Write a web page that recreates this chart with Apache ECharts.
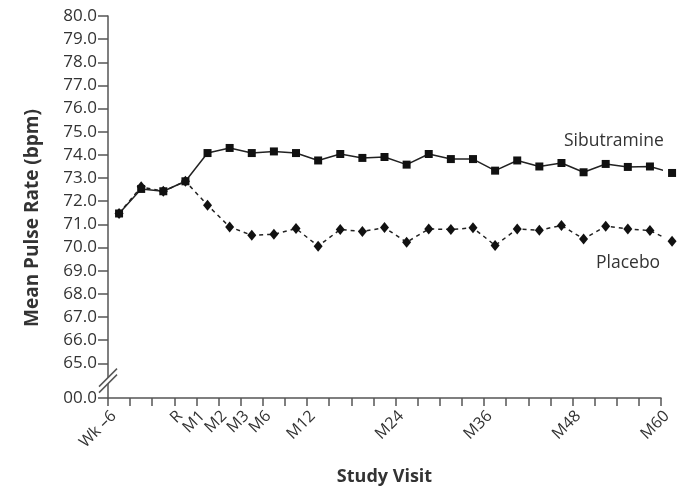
<!DOCTYPE html>
<html>
<head>
<meta charset="utf-8">
<script src="https://cdn.jsdelivr.net/npm/echarts@6/dist/echarts.min.js"></script>
<style>
  html, body { margin: 0; padding: 0; background: #fff; }
  #chart { width: 689px; height: 488px; }
</style>
</head>
<body>
<div id="chart"></div>
<script>
// Study visits along the x axis (one tick per visit; only some are labelled)
const tickLabels = ['Wk \u20136', '', '', 'R', 'M1', 'M2', 'M3', 'M6', '', 'M12', '', '', '',
  'M24', '', '', '', 'M36', '', '', '', 'M48', '', '', '', 'M60'];

// Mean pulse rate (bpm) at each visit
const sibutramine = [71.47, 72.53, 72.43, 72.86, 74.08, 74.30, 74.08, 74.15, 74.08, 73.76,
  74.04, 73.87, 73.91, 73.58, 74.04, 73.82, 73.82, 73.32, 73.76, 73.50,
  73.65, 73.25, 73.61, 73.48, 73.50, 73.22];
const placebo = [71.47, 72.62, 72.43, 72.86, 71.83, 70.89, 70.53, 70.57, 70.82, 70.06,
  70.78, 70.69, 70.86, 70.23, 70.80, 70.78, 70.85, 70.09, 70.80, 70.75,
  70.95, 70.37, 70.92, 70.80, 70.73, 70.27];

// y-axis: 65–80 in steps of 1, plus the broken-axis origin shown as "00.0"
const yOrigin = 63.5;
const yTicks = [yOrigin, 65, 66, 67, 68, 69, 70, 71, 72, 73, 74, 75, 76, 77, 78, 79, 80];

const FONT = '"Open Sans", "DejaVu Sans", sans-serif';
const TEXT = '#333';
const AXIS = '#555';

// each visit's mean is plotted in the middle of its interval
const toPoints = arr => arr.map((v, i) => [i + 0.5, v]);

const chart = echarts.init(document.getElementById('chart'), null, { renderer: 'canvas' });

chart.setOption({
  animation: false,
  backgroundColor: '#fff',
  grid: { left: 108, right: 28, top: 16, bottom: 90, containLabel: false, outerBoundsMode: 'none' },
  xAxis: {
    type: 'value',
    min: 0,
    max: tickLabels.length - 1,
    interval: 1,
    name: 'Study Visit',
    nameLocation: 'middle',
    nameGap: 70,
    nameTextStyle: { fontFamily: FONT, fontSize: 18, fontWeight: 'bold', color: TEXT },
    splitLine: { show: false },
    axisLine: { show: true, lineStyle: { color: AXIS, width: 1.5 } },
    axisTick: { show: true, length: 8, lineStyle: { color: AXIS, width: 1.5 } },
    axisLabel: {
      rotate: 45,
      margin: 10,
      verticalAlign: 'top',
      fontFamily: FONT,
      fontSize: 16,
      color: TEXT,
      showMinLabel: true,
      showMaxLabel: true,
      formatter: v => tickLabels[Math.round(v)] || ''
    }
  },
  yAxis: {
    type: 'value',
    min: yOrigin,
    max: 80,
    name: 'Mean Pulse Rate (bpm)',
    nameLocation: 'middle',
    nameGap: 66,
    nameTextStyle: { fontFamily: FONT, fontSize: 19, fontWeight: 'bold', color: TEXT, padding: [0, 22, 0, 0] },
    splitLine: { show: false },
    axisLine: { show: true, lineStyle: { color: AXIS, width: 1.5 } },
    axisTick: { show: true, length: 10, customValues: yTicks, lineStyle: { color: AXIS, width: 1.5 } },
    axisLabel: {
      margin: 11,
      fontFamily: FONT,
      fontSize: 17,
      color: TEXT,
      customValues: yTicks,
      formatter: v => (v < 64 ? '00.0' : v.toFixed(1))
    }
  },
  series: [
    {
      name: 'Placebo',
      type: 'line',
      clip: false,
      data: toPoints(placebo),
      symbol: 'diamond',
      symbolSize: [9, 11],
      itemStyle: { color: '#111' },
      lineStyle: { color: '#222', width: 1.5, type: [4, 4] },
      z: 2
    },
    {
      name: 'Sibutramine',
      type: 'line',
      clip: false,
      data: toPoints(sibutramine),
      symbol: 'rect',
      symbolSize: 8,
      itemStyle: { color: '#111' },
      lineStyle: { color: '#222', width: 1.5 },
      z: 3
    }
  ]
});

// Series names beside their lines, and the break mark on the y axis
function drawOverlay() {
  const top = chart.convertToPixel({ yAxisIndex: 0 }, 65);
  const bottom = chart.convertToPixel({ yAxisIndex: 0 }, yOrigin);
  const ax = chart.convertToPixel({ xAxisIndex: 0 }, 0);
  const cy = (top + bottom) / 2;
  const half = 8, gap = 3;
  chart.setOption({
    graphic: [
      {
        type: 'polygon', z: 100,
        shape: { points: [[ax - half, cy + half - gap], [ax + half, cy - half - gap],
                          [ax + half, cy - half + gap], [ax - half, cy + half + gap]] },
        style: { fill: '#fff' }
      },
      {
        type: 'line', z: 101,
        shape: { x1: ax - half - 1, y1: cy + half - gap + 1, x2: ax + half + 1, y2: cy - half - gap - 1 },
        style: { stroke: AXIS, lineWidth: 1.5 }
      },
      {
        type: 'line', z: 101,
        shape: { x1: ax - half - 1, y1: cy + half + gap + 1, x2: ax + half + 1, y2: cy - half + gap - 1 },
        style: { stroke: AXIS, lineWidth: 1.5 }
      },
      {
        type: 'text', left: 564, top: 132, z: 100,
        style: { text: 'Sibutramine', fontFamily: FONT, fontSize: 17.5, fill: TEXT }
      },
      {
        type: 'text', left: 596, top: 254, z: 100,
        style: { text: 'Placebo', fontFamily: FONT, fontSize: 17.5, fill: TEXT }
      }
    ]
  });
}
drawOverlay();
</script>
</body>
</html>
